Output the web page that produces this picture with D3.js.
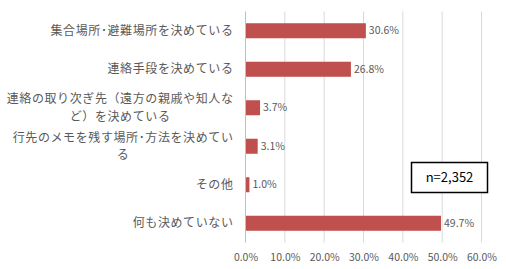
<!DOCTYPE html>
<html>
<head>
<meta charset="utf-8">
<script src="https://cdn.jsdelivr.net/npm/d3@7"></script>
<style>
  body { margin: 0; background: #fff; }
  text { font-family: "Noto Sans CJK JP", "Noto Sans", sans-serif; }
</style>
</head>
<body>
<div id="chart"></div>
<script>
// 決めていること (n=2,352)
const categories = [
    ["集合場所･避難場所を決めている"],
    ["連絡手段を決めている"],
    ["連絡の取り次ぎ先（遠方の親戚や知人な", "ど）を決めている"],
    ["行先のメモを残す場所･方法を決めてい", "る"],
    ["その他"],
    ["何も決めていない"]
];
const values = [30.6, 26.8, 3.7, 3.1, 1.0, 49.7];
const ticks = [0, 10, 20, 30, 40, 50, 60];
const note = "n=2,352";

const svg = d3.select("#chart").append("svg").attr("width", 506).attr("height", 269);
const margin = { top: 11.5, right: 24.5, bottom: 26.5, left: 245.5 };
const width = 506 - margin.left - margin.right;
const height = 269 - margin.top - margin.bottom;

const data = values.map((v, i) => ({ label: categories[i], value: v, key: i }));

const x = d3.scaleLinear().domain([0, 60]).range([0, width]);
const y = d3.scaleBand().domain(data.map(d => d.key)).range([0, height]).paddingInner(0.61).paddingOuter(0.305);

const g = svg.append("g").attr("transform", `translate(${margin.left},${margin.top})`);

// gridlines
g.append("g")
    .selectAll("line")
    .data(ticks.slice(1))
    .enter()
    .append("line")
    .attr("x1", d => x(d)).attr("x2", d => x(d))
    .attr("y1", 0).attr("y2", height)
    .attr("stroke", "#d9d9d9").attr("stroke-width", 1);

// x tick labels
const xAxis = g.append("g").attr("transform", `translate(0,${height})`)
    .call(d3.axisBottom(x).tickValues(ticks).tickFormat(d => d.toFixed(1) + "%").tickSize(0).tickPadding(11));
xAxis.select(".domain").remove();
xAxis.selectAll("text").attr("fill", "#595959").style("font-size", "10.5px");

// bars
g.selectAll(".bar")
    .data(data)
    .enter()
    .append("rect")
    .attr("class", "bar")
    .attr("x", 0)
    .attr("y", d => y(d.key))
    .attr("width", d => x(d.value))
    .attr("height", y.bandwidth())
    .attr("fill", "#c0504d");

// value labels
g.selectAll(".val")
    .data(data)
    .enter()
    .append("text")
    .attr("class", "val")
    .attr("x", d => x(d.value) + 3)
    .attr("y", d => y(d.key) + y.bandwidth() / 2)
    .attr("dy", "0.35em")
    .attr("fill", "#595959")
    .style("font-size", "10.5px")
    .text(d => d.value.toFixed(1) + "%");

// axis line
g.append("line")
    .attr("x1", 0).attr("x2", 0).attr("y1", 0).attr("y2", height)
    .attr("stroke", "#bfbfbf").attr("stroke-width", 1);

// category labels (multi-line centred as a block, right aligned)
const lineH = 17.5;
data.forEach(d => {
    const cy = y(d.key) + y.bandwidth() / 2;
    const t = g.append("text")
        .attr("fill", "#595959")
        .style("font-size", "12px")
        .style("letter-spacing", "0.6px")
        .attr("text-anchor", "middle");
    const n = d.label.length;
    d.label.forEach((line, j) => {
        t.append("tspan")
            .attr("x", 0)
            .attr("y", cy + (j - (n - 1) / 2) * lineH)
            .attr("dy", "0.35em")
            .text(line);
    });
    const bb = t.node().getBBox();
    const cx = -12 - bb.width / 2;
    t.selectAll("tspan").attr("x", cx);
});

// n box
const box = svg.append("g").attr("transform", "translate(411.5,162.5)");
box.append("rect").attr("width", 76).attr("height", 30)
    .attr("fill", "#fff").attr("stroke", "#000").attr("stroke-width", 1.5);
box.append("text").attr("x", 38).attr("y", 15).attr("dy", "0.35em")
    .attr("text-anchor", "middle").attr("fill", "#000")
    .style("font-size", "13px").text(note);
</script>
</body>
</html>
